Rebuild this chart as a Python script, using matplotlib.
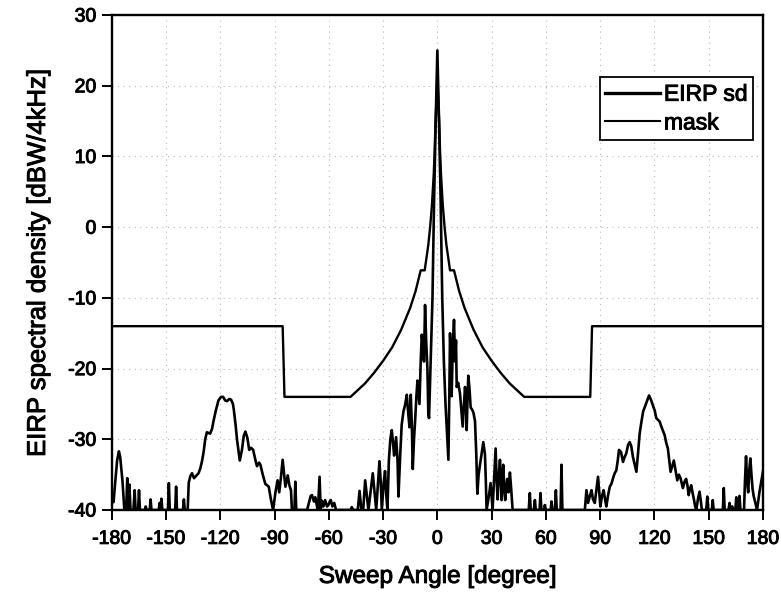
import matplotlib
matplotlib.use("Agg")
import matplotlib.pyplot as plt
import matplotlib.patheffects as pe

plt.rcParams['font.family'] = ['Liberation Sans', 'DejaVu Sans']
plt.rcParams['axes.unicode_minus'] = False

# ---- data ----
eirp_angle = [
    -180, -179, -178, -177, -176, -175.3, -174, -173, -172, -171.4, -170.8, -170.2, -169.6,
    -168, -167.3, -166.8, -165.4, -164.9, -164.4, -161.7, -161.2, -160.7, -159, -158.5, -158,
    -154, -153.5, -153, -152.5, -152, -148.9, -148.4, -147.9, -144.9, -144.4, -143.9,
    -140.6, -140.1, -139.6, -138, -137.4, -136.5, -135.6, -134.5, -133.8, -132, -131, -130,
    -129.2, -128.3, -127.4, -125.6, -124.5, -123.7, -122.5, -121, -119.5, -118.4, -117.3,
    -116.2, -115, -114, -113, -112.5, -111.5, -110.7, -109.2, -108, -107, -106.1, -105,
    -104, -103, -101.8, -100.5, -99.7, -98.5, -97.8, -96.5, -95.1, -93.2, -92, -90.8,
    -89.5, -88.3, -87.4, -86.5, -85.5, -84.5, -84, -82.7, -81.8, -80.9, -80.4, -79, -78.5,
    -78, -72, -71, -70, -69.3, -68.2, -67.5, -66.5, -66, -65.1, -64.5, -63.8, -63, -62,
    -61, -60.2, -59.5, -58.9, -58, -57, -56, -48, -47.3, -46.5, -44, -43, -42, -41, -39.9,
    -38.1, -35.7, -33.8, -32, -31.3, -30.7, -29.6, -28.9, -28.2, -27.6, -26.8, -26, -25.2,
    -24.5, -23.9, -22.8, -22, -21.5, -20.5, -19.7, -18.7, -17.8, -16.9, -16.2, -15.4, -14.7,
    -14.1, -13.6, -12.9, -12.3, -11.6, -11, -10.4, -9.9, -9.2, -8.6, -8, -7.4, -6.8, -6.2,
    -5.5, -5, -4.6, -3.5, -2.7, -1.8, -1, 0, 1, 1.8, 2.7, 3.6, 4.5, 5.3, 6.1, 6.6, 7, 7.5,
    7.9, 8.5, 9.2, 9.8, 10.3, 10.7, 11.5, 12.5, 13.3, 14, 14.7, 15.3, 15.8, 16.2, 16.7, 17.1,
    17.8, 18.4, 19.2, 19.9, 20.8, 21.5, 22.1, 22.8, 23.5, 24.5, 25.4, 26.3, 26.8, 27.2, 28.5,
    29.4, 30, 30.5, 31.3, 32.2, 32.8, 33.3, 34, 34.6, 35, 35.5, 36, 36.4, 37, 37.5, 38, 38.6,
    39.3, 40.1, 40.8, 41.6, 50.5, 51.1, 51.6, 53.3, 53.9, 54.4, 56.5, 57, 57.5, 59, 59.4, 60,
    62.6, 63.1, 63.6, 65, 65.5, 66, 68.1, 68.6, 69.1, 81.5, 82.4, 83.3, 84.3, 85.2, 86, 87,
    88, 88.8, 89.5, 90.1, 91, 91.9, 92.7, 93.4, 94.3, 95.3, 96.2, 97.1, 98, 98.9, 99.7, 100.4,
    101.5, 102.6, 103.5, 104.4, 105.4, 106.3, 107.2, 108.1, 109, 110, 110.9, 111.8, 112.8,
    113.7, 115.3, 117, 118.2, 119.5, 120.1, 121, 122.9, 123.8, 125.6, 126.5, 127.4, 128.2,
    128.9, 129.8, 130.7, 131.7, 132.6, 133.5, 134.4, 135.7, 136.6, 137.5, 138.2, 138.9, 139.6,
    140.3, 141, 141.8, 142.5, 143.1, 144, 144.9, 145.5, 146.2, 148.6, 149.2, 149.8, 151.7,
    152.2, 152.7, 157.8, 158.3, 158.8, 160.9, 161.5, 162, 163, 163.5, 164.7, 165.2, 165.7,
    166.5, 167, 167.5, 169.5, 170, 170.6, 171.2, 171.8, 172.5, 173, 173.6, 174.2, 174.8,
    176.7, 178, 180,
]
eirp_value = [
    -38.6, -38.9, -36, -33, -31.7, -32.5, -36, -40, -40, -35.5, -40, -36.4, -40,
    -40, -37.2, -40, -40, -37.2, -40, -40, -39.5, -40, -40, -38.5, -40,
    -40, -39, -40, -38.4, -40, -40, -36.2, -40, -40, -36.7, -40,
    -40, -38.5, -40, -40, -36.1, -35.2, -34.8, -35.5, -35.3, -34.8, -34.1, -33,
    -31.8, -30, -29, -29.2, -28.5, -27.4, -26, -24.5, -24, -24, -24.5,
    -24.6, -24.3, -24.4, -25, -25.8, -28, -30.1, -33, -31.5, -29.5, -28.9, -29.8,
    -31.5, -31.2, -31.5, -33, -33.8, -33.3, -33.6, -35, -36.3, -36.7, -38.5, -40,
    -37.5, -35.8, -37.5, -35.5, -32.9, -35.5, -36.7, -35.1, -36.5, -37.2, -40, -40, -36,
    -40, -40, -39, -38, -37.9, -38.8, -38.2, -39.5, -40, -35.3, -40, -38.7, -39.5, -38.6,
    -39.5, -39.3, -38.8, -38.6, -39.5, -39, -40, -40, -39.6, -40, -40, -37.3, -40, -40, -35.8,
    -40, -34.8, -40, -33.1, -36, -40, -36, -34.5, -38, -40, -33, -30, -28.7,
    -30.5, -32.3, -29.7, -33, -38.1, -32, -27.9, -26, -25.1, -23.7, -26, -28.3, -23.7,
    -28, -34.2, -30, -27.4, -24, -21.7, -23.5, -25, -19, -15.2, -17, -19, -11, -16,
    -20, -26.3, -27, -17, -10, 4, 14, 25, 14, 4, -10, -19, -25, -29, -32.9, -24, -15, -19,
    -23.9, -17, -13.1, -19, -16, -22.6, -22, -23.5, -26, -28.2, -25, -22.6, -25, -28.7, -24, -21,
    -23, -25.5, -25.8, -26.2, -27.4, -32, -37.7, -35, -33.7, -32, -30.4, -32.1, -36, -40, -38,
    -36.2, -38, -40, -36, -31.3, -36, -38.5, -35, -32.9, -35, -38.6, -36, -33.6, -37, -38.6, -37, -35.6,
    -37.5, -34.7, -37, -40, -40, -37.6, -40, -40, -38.6, -40, -40, -37.6, -40, -40, -39.3, -40,
    -40, -38.8, -40, -40, -37.2, -40, -40, -33.6, -40, -40, -37.2, -39, -38, -37.2, -38.5, -39,
    -37, -35.3, -37.5, -39.5, -38, -37.2, -38.5, -39.5, -38, -36.7, -36.3, -35.5, -34.8, -34.4, -33, -31.5,
    -31.8, -33.2, -32.5, -32, -30.8, -30.4, -31, -32.5, -33.5, -34.6, -32, -29.2, -27.5,
    -26.1, -25, -23.8, -24.5, -25.5, -25.9, -27, -27.5, -28.2, -29.4, -30.5, -31.3, -33,
    -34.6, -33.8, -33, -34.5, -35.8, -35, -35.5, -36.9, -36, -35.6, -36.5, -37.9, -37,
    -36.5, -37.5, -38.5, -39.5, -40, -38.5, -37.4, -38.5, -40, -40, -38.1, -40, -40,
    -38.6, -40, -40, -36.9, -40, -40, -39, -40, -39.5, -40, -40, -38.2, -40,
    -40, -38, -40, -40, -36, -32.4, -36, -37.5, -34, -32.7, -35, -37, -38,
    -40, -37.5, -34.5,
]

mask_angle = [-180, -85.5, -84.5, -48, -40, -35, -30, -25, -20, -15, -12, -9.2, -7, -5, -4,
              -3, -2, -1.5, -1, 0, 1, 1.5, 2, 3, 4, 5, 7, 9.2, 12, 15, 20, 25, 30, 35, 40,
              48, 84.5, 85.5, 180]
mask_value = [-14, -14, -24, -24, -22.1, -20.6, -18.9, -17.0, -14.5, -11.4, -9.0, -6.1, -6.1,
              -2.5, 0.0, 3.1, 7.5, 10.6, 15.0, 21.0, 15.0, 10.6, 7.5, 3.1, 0.0, -2.5, -6.1,
              -6.1, -9.0, -11.4, -14.5, -17.0, -18.9, -20.6, -22.1, -24, -24, -14, -14]

x_ticks = list(range(-180, 181, 30))
y_ticks = list(range(-40, 31, 10))

heavy = [pe.withStroke(linewidth=0.7, foreground='black')]

fig = plt.figure(figsize=(7.81, 5.92), dpi=100)
ax = fig.add_axes([0.143, 0.1385, 0.834, 0.836])

ax.plot(eirp_angle, eirp_value, color='black', lw=1.9, label='EIRP sd', zorder=3)
ax.plot(mask_angle, mask_value, color='black', lw=1.7, label='mask', zorder=3)

ax.set_xlim(-180, 180)
ax.set_ylim(-40, 30)
ax.set_xticks(x_ticks)
ax.set_yticks(y_ticks)
ax.tick_params(direction='out', length=7, width=1.4, labelsize=14, pad=4)
ax.tick_params(axis='x', pad=8)
ax.grid(True, color='#b8b8b8', linestyle=(0, (1, 4)), lw=0.8)
for s in ax.spines.values():
    s.set_linewidth(1.7)
for lbl in ax.get_xticklabels() + ax.get_yticklabels():
    lbl.set_path_effects(heavy)

ax.set_xlabel('Sweep Angle [degree]', fontsize=17.5, labelpad=13, path_effects=heavy)
ax.set_ylabel('EIRP spectral density [dBW/4kHz]', fontsize=18.5, labelpad=13,
              path_effects=heavy)

leg = ax.legend(loc='upper right', bbox_to_anchor=(0.985, 0.875), fontsize=16.5,
                handlelength=2.4, handletextpad=0.15, labelspacing=0.25,
                borderpad=0.25, borderaxespad=0.0, fancybox=False, framealpha=1,
                edgecolor='black')
leg.get_frame().set_linewidth(1.3)
leg.get_lines()[0].set_linewidth(2.4)
leg.get_lines()[1].set_linewidth(1.5)
for t in leg.get_texts():
    t.set_path_effects(heavy)

fig.savefig('out.png', dpi=100)
